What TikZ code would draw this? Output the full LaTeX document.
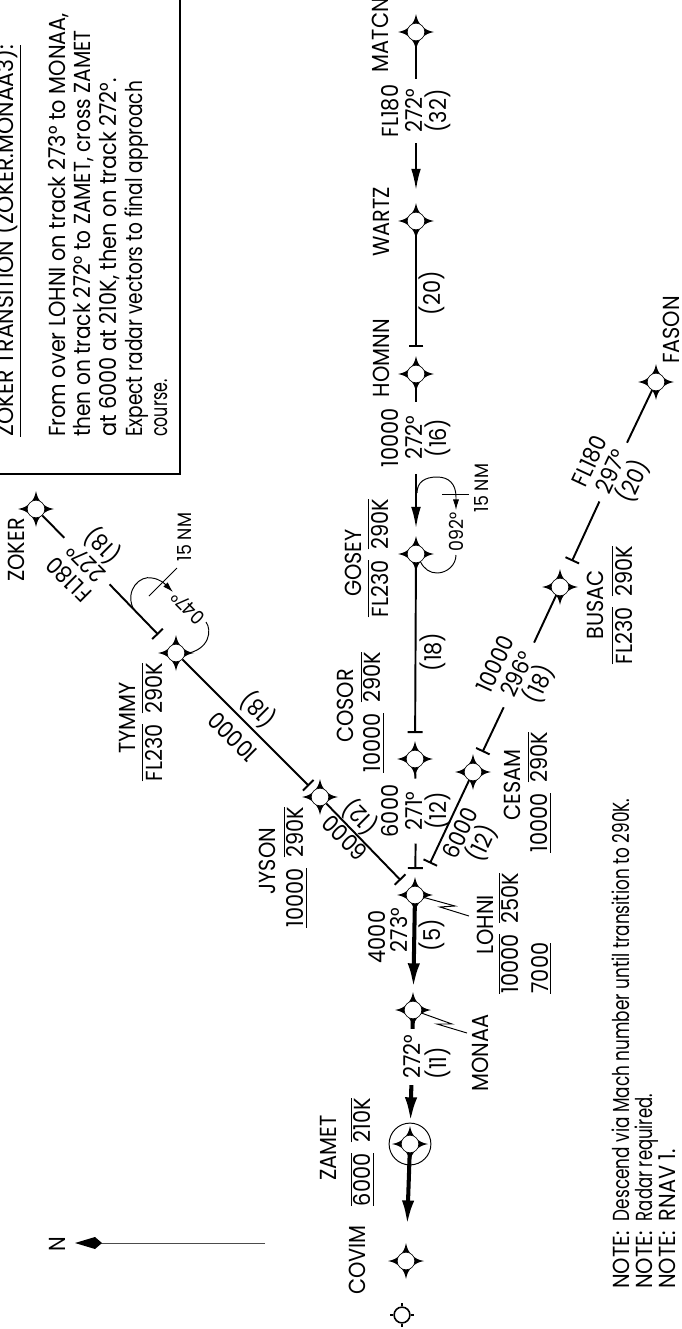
\documentclass[tikz,border=0pt]{standalone}
\usepackage{graphicx}
\usepackage{fontspec}
\setmainfont{Poppins}[FakeStretch=0.9]
\usetikzlibrary{arrows.meta}

\newcommand{\ovl}[1]{$\overline{\mbox{#1}}$}
\newcommand{\unl}[1]{\underline{#1}}
\newcommand{\sqz}[2]{\scalebox{#1}[1]{#2}}

\tikzset{
	fixpt/.style={circle, inner sep=0pt, minimum size=10pt},
	txt/.style={align=center, font=\fontsize{13.2}{13.7}\selectfont},
	small/.style={font=\fontsize{11}{12}\selectfont},
	route/.style={line width=1.1pt},
	heavy/.style={line width=2.3pt},
	teeend/.style={-{Bar[width=8.5pt]}, shorten >=#1},
	tipend/.style={-{Latex[length=12pt,width=5.5pt]}, shorten >=#1},
	bigtip/.style={-{Latex[length=14pt,width=7pt]}, shorten >=#1},
	thin/.style={line width=0.55pt},
}

\begin{document}
\begin{tikzpicture}[x=0.02cm, y=-0.02cm, every node/.style={txt}]
			\useasboundingbox (0,0) rectangle (681,1329);
			\clip (0,0) rectangle (681,1329);

			% transition box
			\draw [line width=1.1pt] (-5,474) -- (180,474) -- (180,-5) ;
			\node[rotate=90, anchor=west, align=left, font=\fontsize{13.2}{14.6}\selectfont] (boxtext) at (80,443) {\sqz{1.05}{\unl{ZOKER TRANSITION (ZOKER.MONAA3):}}\\[0pt] \\From over LOHNI on track 273° to MONAA,\\\sqz{.965}{then on track 272° to ZAMET, cross ZAMET}\\at 6000 at 210K, then on track 272°.\\\sqz{.89}{Expect radar vectors to final approach}\\\sqz{.76}{course.}} ;

			% fixes
			\foreach \fix/\fx/\fy in {matcn/416/32, wartz/416/221, homnn/416/374, gosey/416/554, cosor/415/759, lohni/415/895, monaa/413/1010, zamet/410/1144, covim/406/1261, zoker/36/509, tymmy/176/653, jyson/320/797, cesam/473/772, busac/560/587, fason/656/382} {
				\fill (\fx,\fy-18) .. controls (\fx+1,\fy-12) and (\fx+3,\fy-9) .. (\fx+6,\fy-6)
					.. controls (\fx+9,\fy-3) and (\fx+12,\fy-1) .. (\fx+18,\fy)
					.. controls (\fx+12,\fy+1) and (\fx+9,\fy+3) .. (\fx+6,\fy+6)
					.. controls (\fx+3,\fy+9) and (\fx+1,\fy+12) .. (\fx,\fy+18)
					.. controls (\fx-1,\fy+12) and (\fx-3,\fy+9) .. (\fx-6,\fy+6)
					.. controls (\fx-9,\fy+3) and (\fx-12,\fy+1) .. (\fx-18,\fy)
					.. controls (\fx-12,\fy-1) and (\fx-9,\fy-3) .. (\fx-6,\fy-6)
					.. controls (\fx-3,\fy-9) and (\fx-1,\fy-12) .. (\fx,\fy-18) -- cycle ;
				\node[fixpt, fill=white, draw=black, line width=0.35pt] (\fix) at (\fx,\fy) {} ;
			}

			% circle round zamet
			\node[circle, draw, thin, minimum size=23.8pt, inner sep=0pt] (zametring) at (410,1144) {} ;

			% end symbol
			\node[circle, draw, line width=0.9pt, minimum size=9pt, inner sep=0pt] (endsym) at (402,1315) {} ;
			\draw [line width=0.9pt] (402,1303) -- (endsym) (402,1327) -- (endsym) (390,1315) -- (endsym) (414,1315) -- (endsym) ;

			% fix names
			\node[rotate=90] (nmatcn) at (380,35) {MATCN} ;
			\node[rotate=90] (nwartz) at (381,222) {WARTZ} ;
			\node[rotate=90] (nhomnn) at (381,358) {HOMNN} ;
			\node[rotate=90] (ngosey) at (353,563) {GOSEY} ;
			\node[rotate=90] (ncosor) at (345,706) {COSOR} ;
			\node[rotate=90] (nzoker) at (16,550) {ZOKER} ;
			\node[rotate=90] (ntymmy) at (127,718) {TYMMY} ;
			\node[rotate=90] (njyson) at (267,861) {JYSON} ;
			\node[rotate=90] (ncesam) at (512,785) {CESAM} ;
			\node[rotate=90] (nbusac) at (595,605) {BUSAC} ;
			\node[rotate=90] (nfason) at (671,330) {FASON} ;
			\node[rotate=90] (nlohni) at (485,925) {LOHNI} ;
			\node[rotate=90] (nmonaa) at (480,1053) {MONAA} ;
			\node[rotate=90] (nzamet) at (328,1148) {ZAMET} ;
			\node[rotate=90] (ncovim) at (357,1260) {COVIM} ;

			% altitude and speed limits
			\node[rotate=90] (agosey) at (378,558) {\ovl{FL230}\ \ \ovl{290K}} ;
			\node[rotate=90] (acosor) at (372,712) {\unl{10000}\ \ \ovl{290K}} ;
			\node[rotate=90] (atymmy) at (152,722) {\ovl{FL230}\ \ \ovl{290K}} ;
			\node[rotate=90] (ajyson) at (295,867) {\unl{10000}\ \ \ovl{290K}} ;
			\node[rotate=90] (acesam) at (539,792) {\unl{10000}\ \ \ovl{290K}} ;
			\node[rotate=90] (abusac) at (622,605) {\ovl{FL230}\ \ \ovl{290K}} ;
			\node[rotate=90, align=left] (alohni) at (525,933) {\ovl{10000}\ \ \ovl{250K}\\[3pt]\unl{7000}} ;
			\node[rotate=90] (azamet) at (362,1152) {\unl{\ovl{6000}}\ \ \ovl{210K}} ;

			% legs with a label in the line
			\node[rotate=90] (lmatcn) at (416,111) {FL180\\272°\\(32)} ;
			\draw [route] (matcn) -- (lmatcn) ;
			\draw [route, tipend=12.5pt] (lmatcn) -- (wartz) ;

			\node[rotate=90] (lwartz) at (432,293) {(20)} ;
			\draw [route, teeend=10.2pt] (wartz) -- (homnn) ;

			\node[rotate=90] (lhomnn) at (416,438) {10000\\272°\\(16)} ;
			\draw [route] (homnn) -- (lhomnn) ;
			\draw [route, tipend=9.6pt] (lhomnn) -- (gosey) ;

			\node[rotate=90] (lgosey) at (433,652) {(18)} ;
			\draw [route, teeend=9.6pt] (gosey) -- (cosor) ;

			\node[rotate=90] (lcosor) at (416,811) {6000\\271°\\(12)} ;
			\draw [route] (cosor) -- (lcosor) ;
			\draw [route, teeend=9.6pt] (lcosor) -- (lohni) ;

			\node[rotate=135] (lzoker) at (87,561) {FL180\\227°\\(18)} ;
			\draw [route] (zoker) -- (lzoker) ;
			\draw [route, teeend=9.4pt] (lzoker) -- (tymmy) ;

			\draw [route, teeend=3.7pt] (tymmy) -- (jyson) ;
			\node[rotate=135] (ltymmya) at (233,737) {10000} ;
			\node[rotate=135] (ltymmyb) at (258,710) {(18)} ;

			\draw [route, teeend=6.5pt] (jyson) -- (lohni) ;
			\node[rotate=135] (ljysona) at (345,838) {6000} ;
			\node[rotate=135] (ljysonb) at (360,817) {(12)} ;

			\node[rotate=65] (lfason) at (613,472) {FL180\\297°\\(20)} ;
			\draw [route] (fason) -- (lfason) ;
			\draw [route, teeend=11pt] (lfason) -- (busac) ;

			\node[rotate=65] (lbusac) at (519,675) {10000\\296°\\(18)} ;
			\draw [route] (busac) -- (lbusac) ;
			\draw [route, teeend=7.4pt] (lbusac) -- (cesam) ;

			\draw [route, teeend=14.7pt] (cesam) -- (lohni) ;
			\node[rotate=65] (lcesama) at (460,833) {6000} ;
			\node[rotate=65] (lcesamb) at (482,843) {(12)} ;

			% final legs
			\draw [heavy, bigtip=7.4pt] (lohni) -- (monaa) ;
			\node[rotate=90] (llohnia) at (377,937) {4000} ;
			\node[rotate=90] (llohnib) at (399,930) {273°} ;
			\node[rotate=90] (llohnic) at (432,935) {(5)} ;

			\node[rotate=90] (lmonaa) at (412,1057) {272°} ;
			\node[rotate=90] (lmonaab) at (438,1063) {(11)} ;
			\draw [heavy] (monaa) -- (lmonaa) ;
			\draw [heavy, bigtip=7.4pt] (lmonaa) -- (zamet) ;
			\draw [heavy, bigtip=15.3pt] (zamet) -- (covim) ;

			% holding at tymmy
			\draw [thin, -{Latex[length=6pt,width=3.5pt]}] (133,608) .. controls (125,590) and (140,575) .. (152,578) .. controls (160,579) and (165,584) .. (173,592) ;
			\draw [thin] (149,596) -- (177,568) ;
			\node[rotate=90, small] (tymmydist) at (185,537) {15 NM} ;
			\node[rotate=135, small] (tymmytrack) at (188,608) {047°} ;
			\draw [thin] (206,622) .. controls (212,630) and (210,650) .. (tymmy.-5) ;

			% holding at gosey
			\draw [thin, -{Latex[length=6pt,width=3.5pt]}] (417,493) .. controls (417,482) and (425,477) .. (437,477) .. controls (449,477) and (456,484) .. (456,497) -- (456,510) ;
			\draw [thin] (442,494) -- (469,494) ;
			\node[rotate=90, small] (goseydist) at (482,488) {15 NM} ;
			\node[rotate=90, small] (goseytrack) at (456,532) {092°} ;
			\draw [thin] (456,555) .. controls (456,565) and (447,573) .. (437,573) .. controls (430,573) and (424,569) .. (gosey.-60) ;

			% leaders
			\coordinate (lohnilead) at (469,916) ;
			\coordinate (monaalead) at (467,1033) ;
			\draw [thin] (lohni) -- (455,906) -- (440,907) -- (lohnilead) ;
			\draw [thin] (monaa) -- (452,1024) -- (437,1024) -- (monaalead) ;

			% north arrow
			\node[rotate=90] (north) at (57,1244) {N} ;
			\coordinate (northend) at (265,1243) ;
			\draw [thin, black!70] (northend) -- (100,1243) ;
			\fill (75,1243) -- (95,1237) -- (102,1243) -- (95,1249) -- cycle ;

			% notes
			\node[rotate=90, anchor=west, align=left, font=\fontsize{13.2}{13.1}\selectfont] (notes) at (644,1295) {\makebox[38.5pt][l]{NOTE:}\sqz{.81}{Descend via Mach number until transition to 290K.}\\\makebox[38.5pt][l]{NOTE:}\sqz{.79}{Radar required.}\\\makebox[38.5pt][l]{NOTE:}RNAV 1.} ;

		\end{tikzpicture}
\end{document}
